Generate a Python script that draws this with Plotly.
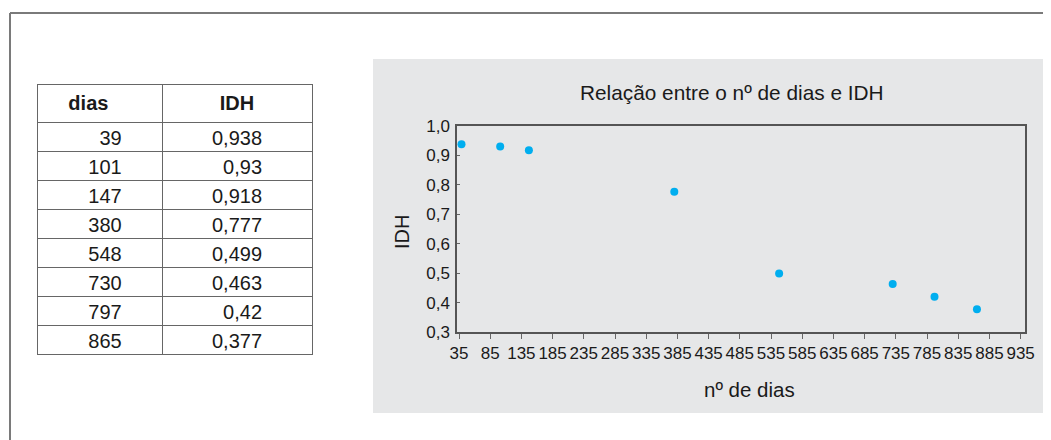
import plotly.graph_objects as go

# ---- data ----
dias = [39, 101, 147, 380, 548, 730, 797, 865]
idh = [0.938, 0.93, 0.918, 0.777, 0.499, 0.463, 0.42, 0.377]
table_header = ["dias", "IDH"]
chart_title = "Relação entre o nº de dias e IDH"
x_title = "nº de dias"
y_title = "IDH"
x_ticks = list(range(35, 936, 50))
y_ticks = [0.3, 0.4, 0.5, 0.6, 0.7, 0.8, 0.9, 1.0]

W, H = 1051, 440
OFF = 8  # page body margin
FONT = "Liberation Sans, Arial, sans-serif"
TXT = "#1a1a1a"
FS = "\u2007"  # figure space for Excel-like padding


def px_x(p):
    return (p - OFF) / W


def px_y(p):
    return 1 - (p - OFF) / H


def fmt_num(v):
    return str(v).replace(".", ",")


dias_txt = [FS * (4 - len(str(d))) + str(d) for d in dias]
idh_txt = [FS * (5 - len(fmt_num(v))) + fmt_num(v) for v in idh]

fig = go.Figure()

# table
fig.add_trace(go.Table(
    domain=dict(x=[px_x(37), px_x(312)], y=[px_y(356), px_y(84)]),
    columnwidth=[125, 150],
    header=dict(
        values=["<b>" + table_header[0] + "</b>" + FS + FS, "<b>" + table_header[1] + "</b>"],
        align="center",
        height=34,
        font=dict(family=FONT, size=20, color=TXT),
        fill_color="white",
        line=dict(color="#666666", width=1),
    ),
    cells=dict(
        values=[dias_txt, idh_txt],
        align="center",
        height=29,
        font=dict(family=FONT, size=20, color=TXT),
        fill_color="white",
        line=dict(color="#666666", width=1),
    ),
))

# scatter
fig.add_trace(go.Scatter(
    x=dias, y=idh, mode="markers",
    marker=dict(color="#00aeef", size=8, line=dict(width=0)),
    showlegend=False, hoverinfo="x+y",
))

fig.update_layout(
    width=W, height=H,
    autosize=False,
    margin=dict(l=0, r=0, t=0, b=0, pad=0, autoexpand=False),
    paper_bgcolor="white",
    plot_bgcolor="white",
    separators=",.",
    font=dict(family=FONT, color=TXT),
    showlegend=False,
    xaxis=dict(
        domain=[px_x(457), px_x(1025)],
        range=[31.8, 942],
        automargin=False,
        tickmode="array", tickvals=x_ticks,
        ticks="outside", ticklen=5, tickcolor="#666666", tickwidth=1,
        showline=True, linecolor="#555555", linewidth=1.5, mirror=True,
        showgrid=False, zeroline=False,
        tickfont=dict(size=17, color=TXT),
    ),
    yaxis=dict(
        domain=[px_y(332), px_y(126)],
        range=[0.3, 1.0],
        automargin=False,
        tickmode="array", tickvals=y_ticks, tickformat=".1f",
        ticks="inside", ticklen=3, tickcolor="#666666", tickwidth=1,
        showline=True, linecolor="#555555", linewidth=1.5, mirror=True,
        showgrid=False, zeroline=False,
        tickfont=dict(size=17, color=TXT),
        ticklabelstandoff=2,
    ),
    shapes=[
        # gray chart panel
        dict(type="rect", xref="paper", yref="paper",
             x0=px_x(373), x1=px_x(1065), y0=px_y(413), y1=px_y(59),
             fillcolor="#e6e7e8", line=dict(width=0), layer="below"),
        # outer frame
        dict(type="line", xref="paper", yref="paper",
             x0=px_x(10), x1=px_x(10), y0=px_y(450), y1=px_y(13),
             line=dict(color="#7a7a7a", width=2)),
        dict(type="line", xref="paper", yref="paper",
             x0=px_x(10), x1=px_x(1065), y0=px_y(13), y1=px_y(13),
             line=dict(color="#7a7a7a", width=2)),
    ],
    annotations=[
        dict(text=chart_title, xref="paper", yref="paper",
             x=px_x(732), y=px_y(92), xanchor="center", yanchor="middle",
             showarrow=False, font=dict(size=20.8, color=TXT)),
        dict(text=x_title, xref="paper", yref="paper",
             x=px_x(749), y=px_y(389), xanchor="center", yanchor="middle",
             showarrow=False, font=dict(size=20.5, color=TXT)),
        dict(text=y_title, xref="paper", yref="paper",
             x=px_x(402), y=px_y(232), xanchor="center", yanchor="middle",
             textangle=-90, showarrow=False, font=dict(size=20, color=TXT)),
    ],
)

fig.write_html("out.html")
